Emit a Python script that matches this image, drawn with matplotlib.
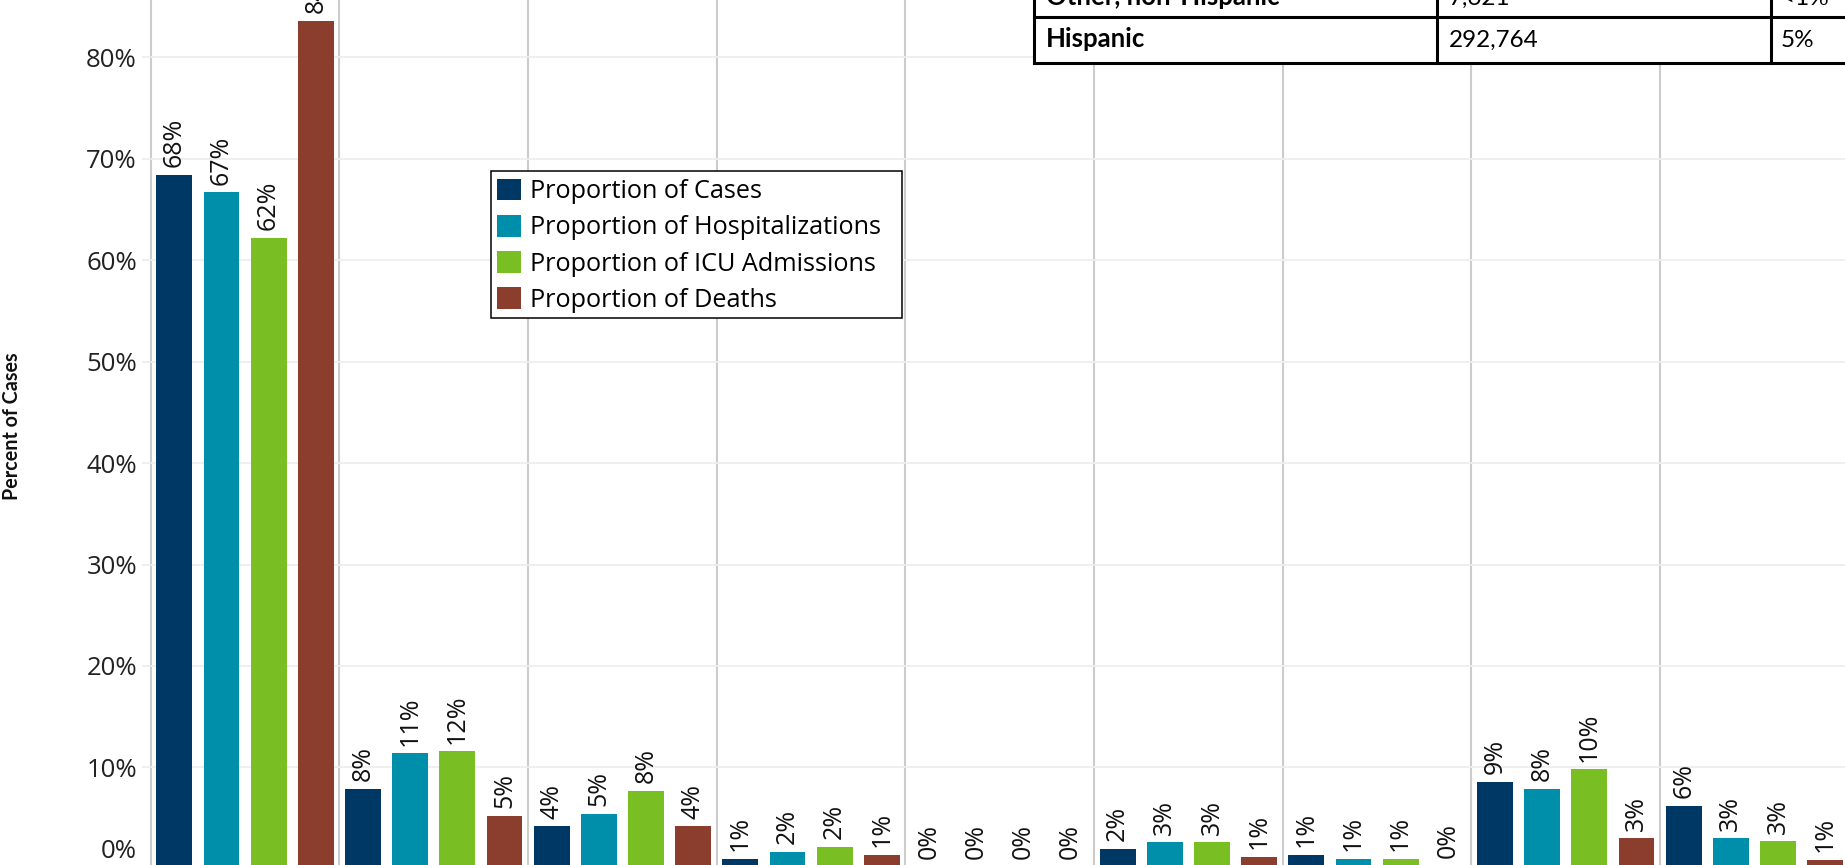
import matplotlib
matplotlib.use("Agg")
import matplotlib.pyplot as plt
import numpy as np
from matplotlib.patches import Patch, Rectangle
from matplotlib.lines import Line2D

# bar values (percent), one list per measure, one entry per group
cases = [68.4, 7.9, 4.2, 1.0, 0.2, 2.0, 1.4, 8.6, 6.2]
hosp = [66.7, 11.4, 5.4, 1.7, 0.2, 2.6, 1.0, 7.9, 3.0]
icu = [62.2, 11.6, 7.7, 2.2, 0.2, 2.6, 1.0, 9.8, 2.7]
deaths = [83.6, 5.2, 4.2, 1.4, 0.2, 1.2, 0.3, 3.0, 0.9]

series_names = ["Proportion of Cases", "Proportion of Hospitalizations",
                "Proportion of ICU Admissions", "Proportion of Deaths"]
colors = ["#003865", "#008fab", "#79be22", "#8b3e2e"]

yticks = [10, 20, 30, 40, 50, 60, 70, 80]

# table in the top right corner
table_groups = ["Other, non-Hispanic", "Hispanic"]
table_counts = ["7,621", "292,764"]
table_pcts = ["<1%", "5%"]

W, H = 1845, 865
fig = plt.figure(figsize=(W / 100, H / 100), dpi=100)
plt.rcParams['font.family'] = ['Open Sans', 'DejaVu Sans']

left_px = 150.7
ax = fig.add_axes([left_px / W, 0, 1 - left_px / W, 1])

n_groups = len(cases)
all_series = [cases, hosp, icu, deaths]
for i, vals in enumerate(all_series):
    xs = np.arange(n_groups) * 4 + i
    ax.bar(xs, vals, width=0.76, color=colors[i], label=series_names[i], zorder=3)
    for x, v in zip(xs, vals):
        ax.annotate("{:.0f}%".format(v), (x, v), xytext=(0, 5.5), textcoords="offset points",
                    rotation=90, ha="center", va="bottom", fontsize=18,
                    color="#111111", annotation_clip=False)

ax.set_xlim(-0.5, 35.42)
ax.set_ylim(0.38, 85.65)
ax.set_xticks([])
ax.set_yticks(yticks)
ax.set_yticklabels(["{}%".format(t) for t in yticks])
ax.tick_params(axis="y", length=6.5, width=1.2, color="#ececec", pad=3.4,
               labelsize=18.5, labelcolor="#222222")
for s in ax.spines.values():
    s.set_visible(False)
ax.grid(axis="y", color="#eeeeee", linewidth=1.3, zorder=0)
for g in range(n_groups):
    ax.axvline(g * 4 - 0.5, color="#cccccc", linewidth=1.5, zorder=1, clip_on=False)

ax.annotate("0%", (0, 0), xycoords="axes fraction", xytext=(-9.9, 0.5), textcoords="offset points",
            ha="right", va="bottom", fontsize=18.5, color="#222222", annotation_clip=False)

fig.text(12 / W, 1 - 426 / H, "Percent of Cases", rotation=90, ha="center", va="center",
         fontsize=14.2, fontweight="bold", family=["Lato", "DejaVu Sans"], color="#111111")


def fx(x):
    return x / W


def fy(y):
    return 1 - y / H


# legend: frame drawn separately so the right padding matches
handles = [Patch(facecolor=c, edgecolor="none") for c in colors]
leg = fig.legend(handles, series_names, loc="upper left",
                 bbox_to_anchor=(fx(491), fy(173)), bbox_transform=fig.transFigure,
                 borderaxespad=0, frameon=False,
                 fontsize=18.2, handlelength=0.95, handleheight=0.95, handletextpad=0.36,
                 labelspacing=0.42, borderpad=0.22)
leg.set_zorder(5)
fig.add_artist(Rectangle((fx(491), fy(318)), fx(902 - 491), (318 - 171) / H,
                         facecolor="white", edgecolor="black", lw=1.1, zorder=4))

# table drawn in figure pixels
tl, c1, c2, tr = 1034, 1437, 1771, 1900
row_edges = [-29, 17, 63]
fig.add_artist(Rectangle((fx(tl), fy(row_edges[-1])), fx(tr - tl), (row_edges[-1] - row_edges[0]) / H,
                         facecolor="white", edgecolor="none", zorder=6))
for y in row_edges:
    fig.add_artist(Line2D([fx(tl), fx(tr)], [fy(y), fy(y)], color="black", lw=2.2, zorder=7))
for x in [tl, c1, c2]:
    fig.add_artist(Line2D([fx(x), fx(x)], [fy(row_edges[0]), fy(row_edges[-1])], color="black",
                          lw=2.2, zorder=7))
baselines = [5, 47]
for k in range(len(table_groups)):
    fig.text(fx(1046), fy(baselines[k]), table_groups[k], ha="left", va="baseline",
             fontsize=18.5, fontweight="bold", family=["Lato", "DejaVu Sans"], zorder=8)
    fig.text(fx(1449), fy(baselines[k]), table_counts[k], ha="left", va="baseline",
             fontsize=17.5, family=["Lato", "DejaVu Sans"], zorder=8)
    fig.text(fx(1781), fy(baselines[k]), table_pcts[k], ha="left", va="baseline",
             fontsize=17.5, family=["Lato", "DejaVu Sans"], zorder=8)

fig.savefig("out.png", dpi=100)
